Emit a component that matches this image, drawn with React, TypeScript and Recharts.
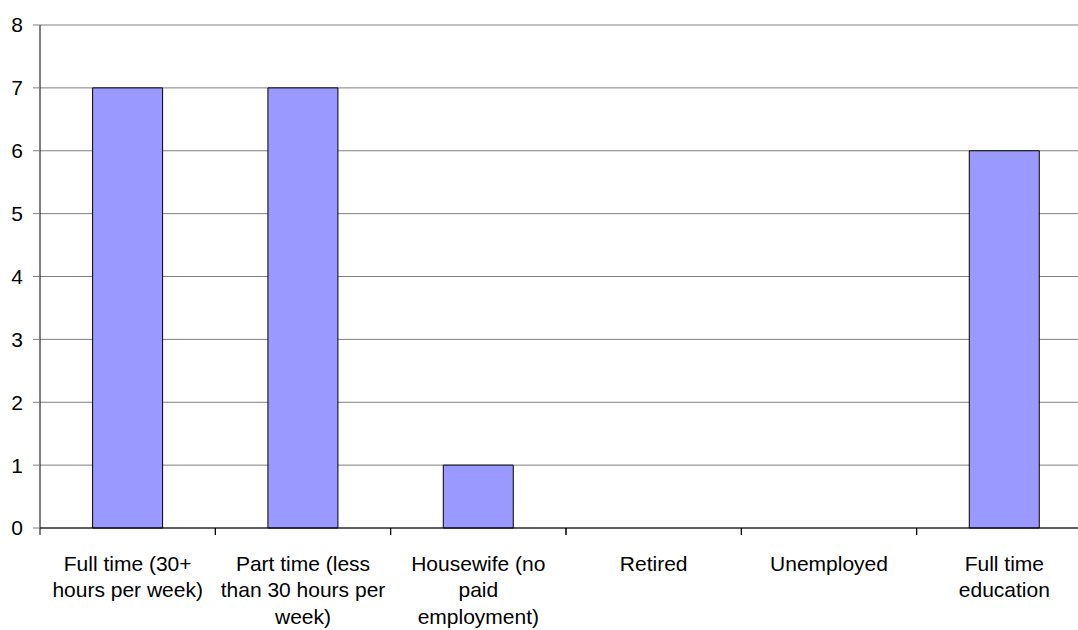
import React from "react";
import { BarChart, Bar, XAxis, YAxis, CartesianGrid } from "recharts";

// Employment status categories and respondent counts
const categories: string[] = [
  "Full time (30+ hours per week)",
  "Part time (less than 30 hours per week)",
  "Housewife (no paid employment)",
  "Retired",
  "Unemployed",
  "Full time education",
];

const counts: number[] = [7, 7, 1, 0, 0, 6];

// Wrapped axis label lines per category
const labelLines: string[][] = [
  ["Full time (30+", "hours per week)"],
  ["Part time (less", "than 30 hours per", "week)"],
  ["Housewife (no", "paid", "employment)"],
  ["Retired"],
  ["Unemployed"],
  ["Full time", "education"],
];

const yTicks: number[] = [0, 1, 2, 3, 4, 5, 6, 7, 8];

const data = categories.map((name, i) => ({ name, value: counts[i], lines: labelLines[i] }));

const FONT = "'Liberation Sans', Arial, sans-serif";

// Category label centred in its band, with a tick mark on the band's left edge
const CategoryTick = (props: any) => {
  const { x, y, payload, index } = props;
  const half = payload && payload.offset ? payload.offset : 87.7;
  const lines = labelLines[index] || [String(payload.value)];
  return (
    <g>
      <line x1={x - half} y1={y} x2={x - half} y2={y + 7} stroke="#000" strokeWidth={1} />
      <line x1={x + half} y1={y} x2={x + half} y2={y + 7} stroke="#000" strokeWidth={1} />
      <text x={x} y={y} textAnchor="middle" fontFamily={FONT} fontSize={21} fill="#000">
        {lines.map((ln, i) => (
          <tspan key={i} x={x} y={y + 42.5 + i * 26.8}>
            {ln}
          </tspan>
        ))}
      </text>
    </g>
  );
};

export default function App() {
  return (
    <div
      style={{
        position: "absolute",
        left: 0,
        top: 0,
        width: 1078,
        height: 630,
        overflow: "hidden",
        background: "#fff",
      }}
    >
      <BarChart
        width={1100}
        height={630}
        data={data}
        margin={{ top: 25, right: 8, bottom: 2, left: 0 }}
        barCategoryGap="30%"
      >
        <CartesianGrid horizontal={true} vertical={false} stroke="#808080" strokeWidth={1} />
        <XAxis
          dataKey="name"
          interval={0}
          height={100}
          tickSize={0}
          tickMargin={0}
          tickLine={false}
          axisLine={{ stroke: "#000", strokeWidth: 1 }}
          tick={<CategoryTick />}
        />
        <YAxis
          domain={[0, 8]}
          ticks={yTicks}
          interval={0}
          width={40}
          tickSize={7}
          tickMargin={10}
          tickLine={{ stroke: "#808080", strokeWidth: 1 }}
          axisLine={{ stroke: "#000", strokeWidth: 1 }}
          tick={{ fontFamily: FONT, fontSize: 21, fill: "#000" }}
        />
        <Bar dataKey="value" fill="#9999FF" stroke="#000" strokeWidth={1} isAnimationActive={false} />
      </BarChart>
    </div>
  );
}
